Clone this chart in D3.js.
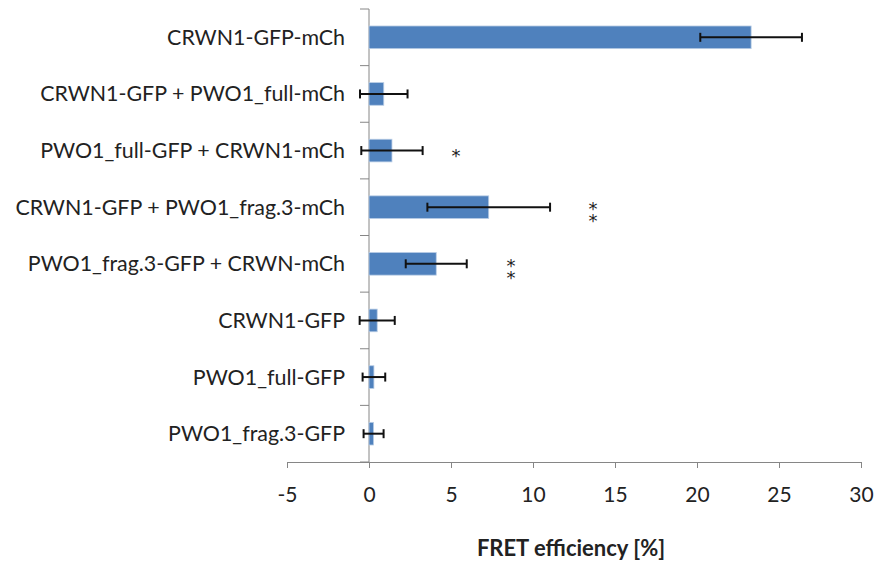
<!DOCTYPE html>
<html>
<head>
<meta charset="utf-8">
<script src="https://cdn.jsdelivr.net/npm/d3@7"></script>
<style>
  html, body { margin: 0; padding: 0; background: #fff; }
  svg { display: block; }
  text { font-family: Lato, "Open Sans", "Liberation Sans", sans-serif; fill: #222; }
</style>
</head>
<body>
<svg id="chart" width="875" height="562"></svg>
<script>
// FRET efficiency per construct (mean and error half-width, in %)
const categories = [
  "CRWN1-GFP-mCh",
  "CRWN1-GFP + PWO1_full-mCh",
  "PWO1_full-GFP + CRWN1-mCh",
  "CRWN1-GFP + PWO1_frag.3-mCh",
  "PWO1_frag.3-GFP + CRWN-mCh",
  "CRWN1-GFP",
  "PWO1_full-GFP",
  "PWO1_frag.3-GFP"
];
const values = [23.3, 0.9, 1.4, 7.3, 4.1, 0.5, 0.3, 0.28];
const errors = [3.1, 1.45, 1.87, 3.74, 1.86, 1.07, 0.69, 0.61];
// significance marks: number of asterisks and the x value where they sit
const sigCount = [0, 0, 1, 2, 2, 0, 0, 0];
const sigX = [0, 0, 5.3, 13.66, 8.66, 0, 0, 0];
const xTicks = [-5, 0, 5, 10, 15, 20, 25, 30];
const xTitle = "FRET efficiency [%]";

const svg = d3.select("#chart");
const x = d3.scaleLinear().domain([-5, 30]).range([287, 861]);
const y = d3.scaleBand().domain(categories).range([9, 462])
  .paddingInner(0.6).paddingOuter(0.3);

const axisColor = "#868686";
const x0 = x(0);

// x axis
const xAxis = svg.append("g").attr("transform", "translate(0,462)")
  .call(d3.axisBottom(x).tickValues(xTicks).tickSize(6).tickPadding(19));
xAxis.select(".domain").attr("stroke", axisColor);
xAxis.selectAll(".tick line").attr("stroke", axisColor);
xAxis.selectAll(".tick text").attr("font-size", 21).attr("fill", "#222")
  .style("font-family", "Lato, 'Open Sans', sans-serif")
  .text(d => d < 0 ? "-" + Math.abs(d) : d);

// category axis at zero, with separator ticks between bands
const step = y.step();
const bandTop = y.range()[0];
const yAxis = svg.append("g");
yAxis.append("line").attr("x1", x0).attr("x2", x0)
  .attr("y1", bandTop).attr("y2", 462).attr("stroke", axisColor);
yAxis.selectAll("line.sep").data(d3.range(categories.length + 1)).join("line")
  .attr("class", "sep")
  .attr("x1", x0 - 9).attr("x2", x0)
  .attr("y1", i => bandTop + i * step).attr("y2", i => bandTop + i * step)
  .attr("stroke", axisColor);

// category labels
svg.append("g").selectAll("text").data(categories).join("text")
  .attr("x", 345)
  .attr("y", d => y(d) + y.bandwidth() / 2)
  .attr("dy", "0.35em")
  .attr("text-anchor", "end")
  .attr("font-size", 21.4)
  .text(d => d);

// bars
const rows = categories.map((c, i) => ({ c, v: values[i], e: errors[i], n: sigCount[i], sx: sigX[i] }));
svg.append("g").selectAll("rect").data(rows).join("rect")
  .attr("x", d => Math.min(x(0), x(d.v)))
  .attr("y", d => y(d.c))
  .attr("width", d => Math.abs(x(d.v) - x(0)))
  .attr("height", y.bandwidth())
  .attr("fill", "#4F81BD")
  .attr("stroke", "#B9CDE5")
  .attr("stroke-width", 0.8);

// error bars
const eb = svg.append("g").attr("stroke", "#111").attr("stroke-width", 2);
rows.forEach(d => {
  const cy = y(d.c) + y.bandwidth() / 2;
  eb.append("line").attr("x1", x(d.v - d.e)).attr("x2", x(d.v + d.e)).attr("y1", cy).attr("y2", cy);
  [d.v - d.e, d.v + d.e].forEach(v => {
    eb.append("line").attr("x1", x(v)).attr("x2", x(v)).attr("y1", cy - 4.5).attr("y2", cy + 4.5);
  });
});

// significance asterisks, stacked vertically in one text element
const sg = svg.append("g");
rows.filter(d => d.n > 0).forEach(d => {
  const cy = y(d.c) + y.bandwidth() / 2;
  const t = sg.append("text")
    .attr("x", x(d.sx))
    .attr("y", d.n > 1 ? cy + 2 : cy + 5)
    .attr("text-anchor", "middle")
    .attr("font-size", 18)
    .attr("fill", "#333")
    .style("font-family", "'DejaVu Sans', sans-serif");
  for (let k = 0; k < d.n; k++) {
    t.append("tspan").attr("x", x(d.sx)).attr("dy", k === 0 ? "0.35em" : 12).text("*");
  }
});

// axis title
svg.append("text").attr("x", 571).attr("y", 556)
  .attr("text-anchor", "middle")
  .attr("font-size", 22).attr("font-weight", "bold")
  .text(xTitle);
</script>
</body>
</html>
